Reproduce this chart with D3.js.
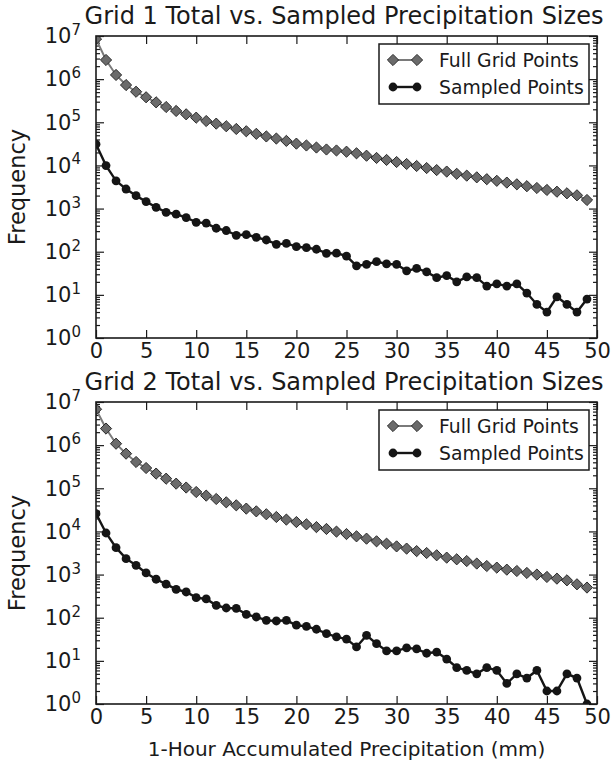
<!DOCTYPE html>
<meta charset="utf-8">
<html>
<head>
    <style>
        body { margin: 0; background: #fff; }
        svg text { font-family: "DejaVu Sans", sans-serif; fill: #1a1a1a; }
        .frame { fill: none; stroke: #1a1a1a; stroke-width: 1.6px; }
        .tick line { stroke: #1a1a1a; stroke-width: 1.2px; }
        .domain { display: none; }
        .line-full { fill: none; stroke: #7a7a7a; stroke-width: 2px; }
        .line-sampled { fill: none; stroke: #151515; stroke-width: 2.4px; }
        .mark-full { fill: #6b6b6b; stroke: #2a2a2a; stroke-width: 1px; }
        .mark-sampled { fill: #151515; }
    </style>
    <script src="https://d3js.org/d3.v7.min.js"></script>
</head>
<body>
<svg id="svg" width="615" height="772"></svg>
<script>

    // precipitation bins (mm)
    var bins = [0, 1, 2, 3, 4, 5, 6, 7, 8, 9, 10, 11, 12, 13, 14, 15, 16, 17, 18, 19,
        20, 21, 22, 23, 24, 25, 26, 27, 28, 29, 30, 31, 32, 33, 34, 35, 36, 37, 38, 39,
        40, 41, 42, 43, 44, 45, 46, 47, 48, 49];

    var grid1Full = [8.5e6, 2.78e6, 1.25e6, 7.3e5, 5.1e5, 3.8e5, 2.9e5, 2.26e5, 1.83e5, 1.53e5,
        1.28e5, 1.07e5, 9.3e4, 8.1e4, 7.0e4, 6.2e4, 5.4e4, 4.7e4, 4.2e4, 3.7e4,
        3.2e4, 2.9e4, 2.6e4, 2.34e4, 2.22e4, 2.08e4, 1.91e4, 1.68e4, 1.49e4, 1.34e4,
        1.2e4, 1.08e4, 9.7e3, 8.7e3, 7.8e3, 7.2e3, 6.4e3, 5.8e3, 5.3e3, 4.8e3,
        4.4e3, 4.0e3, 3.65e3, 3.3e3, 3.0e3, 2.7e3, 2.46e3, 2.26e3, 2.03e3, 1.58e3];

    var grid1Sampled = [31000, 9900, 4400, 2840, 1990, 1450, 1070, 820, 740, 620,
        480, 460, 350, 310, 240, 250, 215, 187, 148, 156,
        131, 124, 114, 92, 93, 79, 47, 51, 59, 52,
        51, 36, 41, 34, 25, 28, 20, 26, 25, 16,
        18, 16, 18, 11, 6, 4, 9, 6, 4, 8];

    var grid2Full = [6.8e6, 2.42e6, 1.08e6, 6.35e5, 4.07e5, 2.95e5, 2.19e5, 1.67e5, 1.28e5, 1.04e5,
        8.2e4, 6.76e4, 5.65e4, 4.73e4, 4.03e4, 3.38e4, 2.92e4, 2.5e4, 2.16e4, 1.88e4,
        1.65e4, 1.46e4, 1.26e4, 1.14e4, 9.9e3, 8.7e3, 7.7e3, 6.8e3, 5.9e3, 5.2e3,
        4.5e3, 4.0e3, 3.5e3, 3.16e3, 2.8e3, 2.47e3, 2.26e3, 2.06e3, 1.8e3, 1.58e3,
        1.45e3, 1.3e3, 1.21e3, 1.09e3, 1.0e3, 880, 805, 735, 595, 500];

    var grid2Sampled = [25800, 9200, 4200, 2340, 1640, 1090, 780, 600, 455, 395,
        292, 272, 194, 168, 165, 120, 104, 87, 84, 87,
        67, 63, 54, 43, 36, 32, 21, 39, 25, 17,
        17, 20, 19, 15, 16, 11, 7, 6, 5, 7,
        6, 3, 5, 4, 6, 2, 2, 5, 4, 1];

    var xTicks = [0, 5, 10, 15, 20, 25, 30, 35, 40, 45, 50];
    var yExponents = [0, 1, 2, 3, 4, 5, 6, 7];
    var legendLabels = ["Full Grid Points", "Sampled Points"];
    var panelTitles = ["Grid 1 Total vs. Sampled Precipitation Sizes",
        "Grid 2 Total vs. Sampled Precipitation Sizes"];

    var svg = d3.select("svg");
    var left = 96, right = 597, panelH = 302;
    var panelTops = [36, 402];

    var x = d3.scaleLinear().domain([0, 50]).range([left, right]);

    function minorTicks() {
        var out = [];
        for (var e = 0; e < 7; e++) {
            for (var m = 2; m < 10; m++) out.push(m * Math.pow(10, e));
        }
        return out;
    }

    function diamond(size) {
        return "M0," + (-size) + "L" + size + ",0L0," + size + "L" + (-size) + ",0Z";
    }

    function drawPanel(idx, full, sampled) {
        var top = panelTops[idx];
        var y = d3.scaleLog().domain([1, 1e7]).range([top + panelH, top]);
        var g = svg.append("g");

        var clipId = "clip" + idx;
        svg.append("clipPath").attr("id", clipId)
            .append("rect")
            .attr("x", left).attr("y", top)
            .attr("width", right - left).attr("height", panelH);

        // ticks, pointing inward on all four sides
        var majorY = yExponents.map(function (e) { return Math.pow(10, e); });

        var yl = g.append("g").attr("transform", "translate(" + left + ",0)")
            .call(d3.axisLeft(y).tickValues(majorY).tickSize(-8).tickPadding(15)
                .tickFormat(function () { return ""; }));
        yl.selectAll(".tick text").each(function (d) {
            var t = d3.select(this).style("font-size", "21px");
            t.append("tspan").text("10");
            t.append("tspan").attr("dy", "-0.55em").style("font-size", "15px")
                .text(Math.round(Math.log10(d)));
        });
        g.append("g").attr("transform", "translate(" + left + ",0)")
            .call(d3.axisLeft(y).tickValues(minorTicks()).tickSize(-4).tickFormat(""));
        g.append("g").attr("transform", "translate(" + right + ",0)")
            .call(d3.axisRight(y).tickValues(majorY).tickSize(-8).tickFormat(""));
        g.append("g").attr("transform", "translate(" + right + ",0)")
            .call(d3.axisRight(y).tickValues(minorTicks()).tickSize(-4).tickFormat(""));

        g.append("g").attr("transform", "translate(0," + (top + panelH) + ")")
            .call(d3.axisBottom(x).tickValues(xTicks).tickSize(-8).tickPadding(5))
            .selectAll(".tick text").style("font-size", "21px");
        g.append("g").attr("transform", "translate(0," + top + ")")
            .call(d3.axisTop(x).tickValues(xTicks).tickSize(-8).tickFormat(""));

        // series
        var plot = g.append("g").attr("clip-path", "url(#" + clipId + ")");
        var line = d3.line()
            .x(function (d) { return x(d[0]); })
            .y(function (d) { return y(d[1]); });

        var fullPts = bins.map(function (b, i) { return [b, full[i]]; });
        var sampPts = bins.map(function (b, i) { return [b, sampled[i]]; });

        plot.append("path").attr("class", "line-full").attr("d", line(fullPts));
        plot.selectAll(".mark-full").data(fullPts).enter().append("path")
            .attr("class", "mark-full")
            .attr("d", diamond(5.6))
            .attr("transform", function (d) { return "translate(" + x(d[0]) + "," + y(d[1]) + ")"; });

        plot.append("path").attr("class", "line-sampled").attr("d", line(sampPts));
        plot.selectAll(".mark-sampled").data(sampPts).enter().append("circle")
            .attr("class", "mark-sampled")
            .attr("r", 4.4)
            .attr("cx", function (d) { return x(d[0]); })
            .attr("cy", function (d) { return y(d[1]); });

        g.append("rect").attr("class", "frame")
            .attr("x", left).attr("y", top)
            .attr("width", right - left).attr("height", panelH);

        // title and y label
        g.append("text")
            .attr("x", 344).attr("y", top - 12)
            .attr("text-anchor", "middle")
            .style("font-size", "24px")
            .text(panelTitles[idx]);

        g.append("text")
            .attr("transform", "translate(25," + (top + panelH / 2) + ") rotate(-90)")
            .attr("text-anchor", "middle")
            .style("font-size", "22.5px")
            .text("Frequency");

        // legend
        var lg = g.append("g").attr("transform", "translate(379," + (top + 8) + ")");
        lg.append("rect")
            .attr("width", 210).attr("height", 60)
            .attr("fill", "#fff").attr("stroke", "#1a1a1a").attr("stroke-width", 1.5);
        [0, 1].forEach(function (k) {
            var cy = 16 + k * 27;
            lg.append("line")
                .attr("x1", 14).attr("x2", 38).attr("y1", cy).attr("y2", cy)
                .attr("class", k === 0 ? "line-full" : "line-sampled");
            [14, 38].forEach(function (mx) {
                if (k === 0) {
                    lg.append("path").attr("class", "mark-full").attr("d", diamond(5.6))
                        .attr("transform", "translate(" + mx + "," + cy + ")");
                } else {
                    lg.append("circle").attr("class", "mark-sampled").attr("r", 4.4)
                        .attr("cx", mx).attr("cy", cy);
                }
            });
            lg.append("text")
                .attr("x", 60).attr("y", cy).attr("dy", "0.35em")
                .style("font-size", "18.8px")
                .text(legendLabels[k]);
        });
    }

    drawPanel(0, grid1Full, grid1Sampled);
    drawPanel(1, grid2Full, grid2Sampled);

    svg.append("text")
        .attr("x", (left + right) / 2).attr("y", 756)
        .attr("text-anchor", "middle")
        .style("font-size", "20px")
        .text("1-Hour Accumulated Precipitation (mm)");

</script>
</body>
</html>
